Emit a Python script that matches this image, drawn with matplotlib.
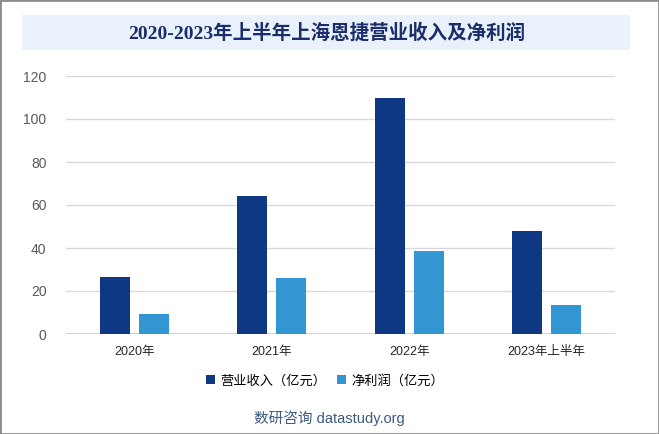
import matplotlib
matplotlib.use("Agg")
import matplotlib.pyplot as plt
from matplotlib.patches import Rectangle
import numpy as np

plt.rcParams['font.family'] = ['Liberation Sans', 'Noto Sans CJK SC', 'DejaVu Sans']

categories = ["2020年", "2021年", "2022年", "2023年上半年"]
revenue = [26.5, 64.2, 109.8, 47.9]
profit = [9.3, 26.0, 38.6, 13.5]
series_names = ["营业收入（亿元）", "净利润（亿元）"]
yticks = [0, 20, 40, 60, 80, 100, 120]

W, H = 659, 434
fig = plt.figure(figsize=(W / 100, H / 100), dpi=100)

# outer border
fig.patches.append(Rectangle((0, 0), 1, 1, transform=fig.transFigure,
                             fill=False, edgecolor="#8c8c8c", linewidth=2))
# title box
fig.patches.append(Rectangle((22 / W, 1 - 50 / H), (630 - 22) / W, 35 / H,
                             transform=fig.transFigure, facecolor="#e9f1fb",
                             edgecolor="none"))
fig.text(327 / W, 1 - 33 / H, "2020-2023年上半年上海恩捷营业收入及净利润",
         ha="center", va="center", fontsize=14, fontweight="bold",
         color="#1b2d6b", family=['Liberation Serif', 'Noto Sans CJK SC'])

ax = fig.add_axes([66 / W, 1 - 334 / H, (615 - 66) / W, (334 - 76) / H])
x = np.arange(len(categories))
bw = 0.219
ax.bar(x - 0.142, revenue, width=bw, color="#0e3883", label=series_names[0], zorder=3)
ax.bar(x + 0.142, profit, width=bw, color="#3296d2", label=series_names[1], zorder=3)

ax.set_xlim(-0.5, len(categories) - 0.5)
ax.set_ylim(0, 120)
ax.set_yticks(yticks)
ax.set_xticks(x)
ax.set_xticklabels(categories, fontsize=9, color="#262626")
ax.tick_params(axis="y", labelsize=10, labelcolor="#595959", length=0, pad=14)
ax.tick_params(axis="x", length=0, pad=9)
ax.grid(axis="y", color="#d9d9d9", linewidth=1, zorder=0)
ax.set_axisbelow(True)
for s in ax.spines.values():
    s.set_visible(False)
ax.axhline(0, color="#d0d0d0", linewidth=1.2, zorder=2)

handles, labels = ax.get_legend_handles_labels()
fig.legend(handles, labels, loc="center", bbox_to_anchor=(325 / W, 1 - 381 / H),
           ncol=2, frameon=False, fontsize=9.5, handlelength=0.7, handleheight=0.7,
           handletextpad=0.4, columnspacing=0.8)

fig.text(329 / W, 1 - 418 / H, "数研咨询 datastudy.org", ha="center", va="center",
         fontsize=10.5, color="#3c5a82")

fig.savefig("out.png", dpi=100)
